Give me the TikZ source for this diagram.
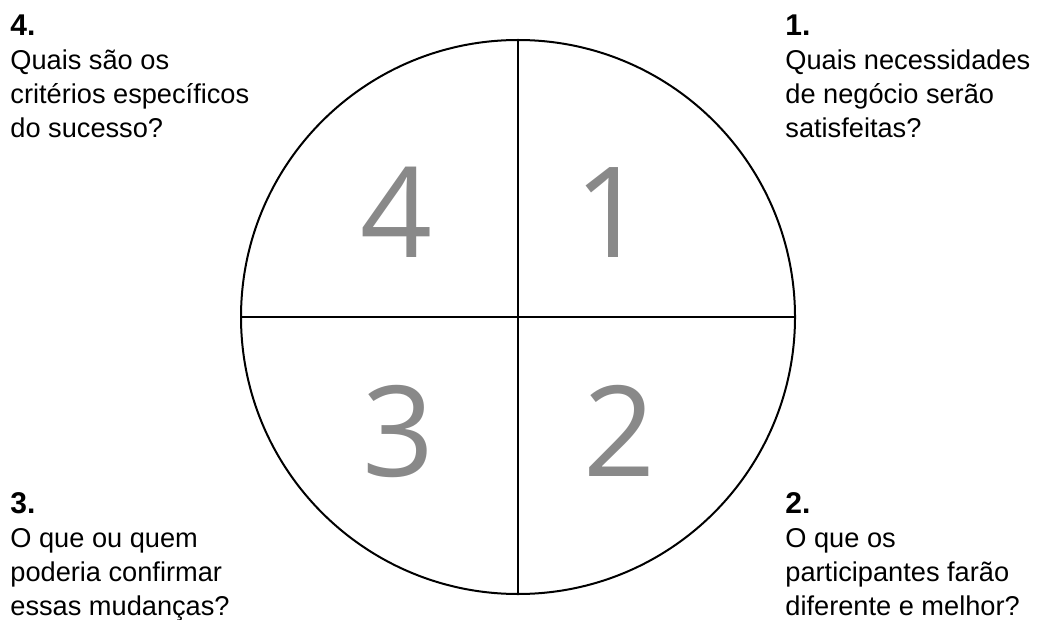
\documentclass[tikz,border=0pt]{standalone}
\usepackage{fontspec}
\setmainfont{Liberation Sans}
\newfontfamily\digitfont{Open Sans}
\usetikzlibrary{positioning,calc}
\definecolor{quadgray}{RGB}{137,137,137}
\newcommand{\qhead}[1]{{\fontsize{15pt}{17pt}\selectfont\textbf{#1}}}

\begin{document}
\begin{tikzpicture}[x=0.5pt, y=-0.5pt,
    question/.style={anchor=north west, inner sep=0pt, align=left,
      font=\fontsize{13.6pt}{17pt}\selectfont},
    quadnum/.style={anchor=base, inner sep=0pt, text=quadgray,
      font=\digitfont\fontsize{63pt}{63pt}\selectfont}]
  \useasboundingbox (0,0) rectangle (1037,620);

  % Circle
  \node[draw, circle, line width=1pt, minimum size=277pt, inner sep=0pt] (wheel) at (518,317) {};
  \draw[line width=1pt] (wheel.west) -- (wheel.east);
  \draw[line width=1pt] (wheel.north) -- (wheel.south);

  % Numbers inside the circle
  \node[quadnum] (n4) at (397,257) {4};
  \node[quadnum] (n1) at (611,257) {1};
  \node[quadnum] (n3) at (399,476) {3};
  \node[quadnum] (n2) at (620,476) {2};

  % Questions
  \node[question] (q4) at (10,14) {\qhead{4.}\\Quais são os\\critérios específicos\\do sucesso?};
  \node[question] (q1) at (785,14) {\qhead{1.}\\Quais necessidades\\de negócio serão\\satisfeitas?};
  \node[question] (q3) at (10,492) {\qhead{3.}\\O que ou quem\\poderia confirmar\\essas mudanças?};
  \node[question] (q2) at (785,492) {\qhead{2.}\\O que os\\participantes farão\\diferente e melhor?};
\end{tikzpicture}
\end{document}
